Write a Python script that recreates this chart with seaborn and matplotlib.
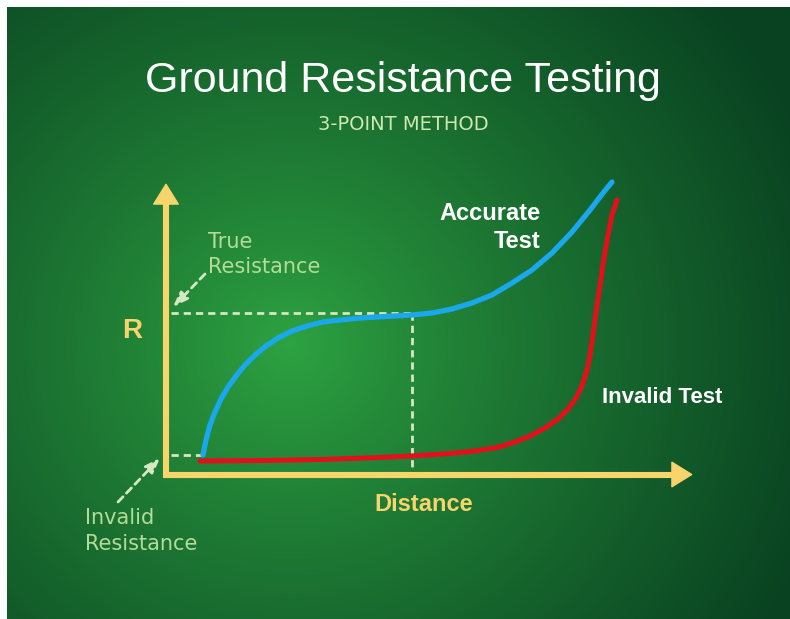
import numpy as np
import pandas as pd
import matplotlib
matplotlib.use("Agg")
import matplotlib.pyplot as plt
import seaborn as sns

# ---------------- data ----------------
accurate_distance = [7.02, 7.59, 8.35, 9.30, 10.44, 11.76, 13.28, 14.99, 16.89, 18.98,
                     21.25, 23.91, 26.76, 29.79, 33.02, 36.81, 41.56, 46.68, 50.47,
                     54.27, 58.06, 61.86, 65.65, 69.45, 73.24, 77.04, 80.46, 82.92, 84.63]
accurate_resistance = [6.69, 11.84, 16.98, 21.44, 25.90, 30.02, 33.79, 37.56, 40.99, 44.08,
                       46.83, 49.23, 50.94, 52.32, 53.00, 53.69, 54.20, 54.72, 55.40,
                       56.78, 58.83, 61.58, 65.69, 70.15, 75.99, 83.19, 90.74, 96.57, 100.34]
invalid_distance = [6.45, 17.84, 29.22, 40.61, 48.20, 53.89, 58.63, 62.81, 66.22, 69.07,
                    71.92, 74.38, 76.28, 77.80, 78.94, 79.89, 80.46, 81.02, 81.59, 82.35,
                    83.11, 83.87, 84.63, 85.58]
invalid_resistance = [4.63, 4.80, 5.15, 5.83, 6.52, 7.20, 8.06, 9.26, 11.15, 13.21,
                      15.95, 19.04, 22.47, 26.24, 30.36, 35.85, 41.00, 47.86, 55.75, 65.01,
                      74.27, 82.16, 89.02, 94.17]
true_resistance_level = 55.5
invalid_resistance_level = 6.7
test_distance = 46.7
axis_max = 100

title = "Ground Resistance Testing"
subtitle = "3-POINT METHOD"
label_invalid = "Invalid Test"
y_label = "R"
x_label = "Distance"

# ---------------- styling ----------------
W, H = 790, 619
YELLOW = "#f7d46c"
BLUE = "#1aa7ec"
RED = "#e3101c"
PALE = "#d6e7c4"
LABEL_GREEN = "#b3dc98"

sns.set_theme(style="white")
plt.rcParams["font.family"] = ["DejaVu Sans"]

fig = plt.figure(figsize=(W / 100, H / 100), dpi=100, facecolor="white")

# background radial gradient
bg = fig.add_axes([7 / W, 0, (W - 7) / W, (H - 7) / H])
gw, gh = W - 7, H - 7
yy, xx = np.mgrid[0:gh, 0:gw]
cx, cy = 290 - 7, 345 - 7
r = np.sqrt((xx - cx) ** 2 + ((yy - cy) * 1.05) ** 2) / 560.0
t = np.clip(r, 0, 1) ** 0.85
c0 = np.array([46, 164, 66]) / 255.0
c1 = np.array([9, 66, 33]) / 255.0
img = c0[None, None, :] * (1 - t[..., None]) + c1[None, None, :] * t[..., None]
bg.imshow(img, aspect="auto", interpolation="bilinear")
bg.axis("off")

ax = fig.add_axes([0, 0, 1, 1])
ax.patch.set_alpha(0)
ox, oy = 166.0, 474.5
sx, sy = 5.27, 2.915
ax.set_xlim(-ox / sx, (W - ox) / sx)
ax.set_ylim(-(H - oy) / sy, oy / sy)
ax.axis("off")

def px(x, y):
    return ((x - ox) / sx, (oy - y) / sy)

# dashed reference lines
dash = dict(color=PALE, lw=2.0, dashes=(2.6, 1.8))
ax.plot([1.0, test_distance], [true_resistance_level] * 2, **dash)
ax.plot([test_distance] * 2, [true_resistance_level, 1.4], **dash)
ax.plot([1.0, accurate_distance[0]], [invalid_resistance_level] * 2, **dash)

# curves
df_acc = pd.DataFrame({"Distance": accurate_distance, "R": accurate_resistance})
df_inv = pd.DataFrame({"Distance": invalid_distance, "R": invalid_resistance})
sns.lineplot(data=df_acc, x="Distance", y="R", ax=ax, color=BLUE, lw=3.8,
             sort=False, estimator=None, legend=False)
sns.lineplot(data=df_inv, x="Distance", y="R", ax=ax, color=RED, lw=3.6,
             sort=False, estimator=None, legend=False)
for ln in ax.lines[-2:]:
    ln.set_solid_capstyle("round")
    ln.set_solid_joinstyle("round")

# axes (yellow L with arrow heads)
ax.plot([0, 0, axis_max - 3.0], [axis_max - 5.5, 0, 0], color=YELLOW, lw=4.4,
        solid_joinstyle="miter", solid_capstyle="butt")
head = "-|>,head_length=1.45,head_width=0.9"
ax.annotate("", xy=(0, axis_max), xytext=(0, axis_max - 9),
            arrowprops=dict(arrowstyle=head, mutation_scale=10, lw=0.8,
                            color=YELLOW, shrinkA=0, shrinkB=0,
                            joinstyle="miter", capstyle="butt"))
ax.annotate("", xy=(axis_max, 0), xytext=(axis_max - 5, 0),
            arrowprops=dict(arrowstyle=head, mutation_scale=10, lw=0.8,
                            color=YELLOW, shrinkA=0, shrinkB=0,
                            joinstyle="miter", capstyle="butt"))

# dashed pointer arrows
parr = dict(arrowstyle="-|>,head_length=0.9,head_width=0.33", mutation_scale=10,
            lw=2.0, color=PALE, linestyle=(0, (2.6, 1.8)), shrinkA=0, shrinkB=0)
ax.annotate("", xy=px(173, 307), xytext=px(205, 274), arrowprops=parr)
ax.annotate("", xy=px(160, 458), xytext=px(118, 502), arrowprops=parr)

# texts
def ft(x, y, s, **kw):
    fig.text(x / W, 1 - y / H, s, **kw)

ft(403, 92, title, ha="center", va="baseline", color="white",
   fontsize=31, family=["Liberation Sans", "DejaVu Sans"])
ft(403, 130, subtitle, ha="center", va="baseline", color="#cfe8b0",
   fontsize=14, family=["DejaVu Sans"])

ft(541, 220, "Accurate", ha="right", va="baseline", color="white",
   fontsize=17, fontweight="bold", family=["Liberation Sans", "DejaVu Sans"])
ft(541, 248, "Test", ha="right", va="baseline", color="white",
   fontsize=17, fontweight="bold", family=["Liberation Sans", "DejaVu Sans"])
ft(602, 403, label_invalid, ha="left", va="baseline", color="white",
   fontsize=16, fontweight="bold", family=["Liberation Sans", "DejaVu Sans"])
ft(132, 338, y_label, ha="center", va="baseline", color=YELLOW,
   fontsize=20, fontweight="bold", family=["Liberation Sans", "DejaVu Sans"])
ft(424, 511, x_label, ha="center", va="baseline", color=YELLOW,
   fontsize=17, fontweight="bold", family=["Liberation Sans", "DejaVu Sans"])

ft(208, 248, "True", ha="left", va="baseline", color=LABEL_GREEN, fontsize=15)
ft(208, 273, "Resistance", ha="left", va="baseline", color=LABEL_GREEN, fontsize=15)
ft(85, 524, "Invalid", ha="left", va="baseline", color=LABEL_GREEN, fontsize=15)
ft(85, 550, "Resistance", ha="left", va="baseline", color=LABEL_GREEN, fontsize=15)

fig.savefig("out.png", dpi=100, facecolor="white")
